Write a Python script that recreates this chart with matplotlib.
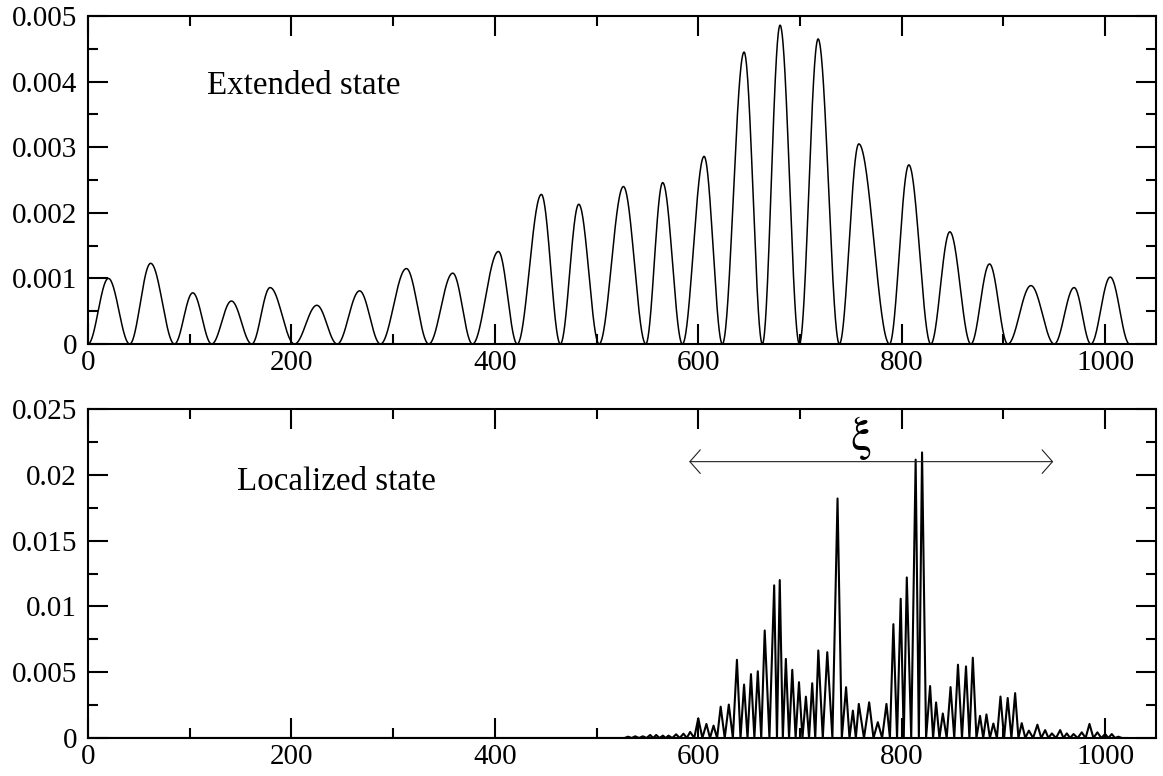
import numpy as np
import matplotlib
matplotlib.use("Agg")
import matplotlib.pyplot as plt
from matplotlib.ticker import MultipleLocator, FuncFormatter

plt.rcParams["font.family"] = ["Liberation Serif", "DejaVu Serif"]

# Extended state: nodes of the wavefunction, position and height of each lobe
ext_nodes = [0, 41, 85, 121.6, 161, 203, 245, 287.5, 335, 378, 422, 464.4,
             502.5, 548.4, 584.4, 623.7, 663, 699.4, 738.7, 788, 828.6, 868,
             904.3, 950, 986, 1024]
ext_peak_x = [20, 61.6, 103, 141, 179, 225, 267, 313, 358.6, 403.5, 445.7,
              482.5, 526.4, 565, 605.7, 645, 680.4, 717.8, 757.8, 807, 847.3,
              886.3, 927, 969.5, 1005]
ext_peak_y = [0.00100, 0.00123, 0.00078, 0.000655, 0.00086, 0.00059, 0.00081,
              0.00115, 0.00108, 0.00141, 0.00228, 0.00213, 0.00240, 0.00246,
              0.00286, 0.00445, 0.00486, 0.00465, 0.00305, 0.00273, 0.00171,
              0.00122, 0.00089, 0.00086, 0.00102]

# Localized state: site of each local maximum and its height
loc_peak_x = [531, 538, 545.5, 552.7, 558.6, 565.2, 570.7, 578.2, 585.4, 592,
              600, 608, 615, 622, 630, 638, 645, 651.8, 658.5, 665.3, 674.6,
              680.1, 686.1, 692.4, 699, 705.8, 712, 718, 726.8, 736.9, 745.3,
              752, 757.8, 768, 776.5, 785, 791.8, 799, 805, 813.7, 820, 827.9,
              833.8, 840.4, 848, 855.3, 863.2, 869.9, 877, 883.3, 890.1,
              897.1, 904.2, 911.5, 918, 925, 933.4, 941, 947.6, 955.8, 962.3,
              968.9, 977, 984.6, 992.4, 1000, 1006.5, 1013]
loc_peak_y = [0.0001, 0.00013, 0.00013, 0.00023, 0.00023, 0.00018, 0.00018,
              0.00028, 0.00033, 0.00046, 0.0015, 0.00107, 0.00094, 0.00238,
              0.00254, 0.00594, 0.00406, 0.00485, 0.00507, 0.00817, 0.0116,
              0.0120, 0.00601, 0.00518, 0.00424, 0.00314, 0.00416, 0.00665,
              0.00652, 0.0182, 0.00386, 0.00208, 0.00259, 0.00271, 0.0012,
              0.00259, 0.00865, 0.01058, 0.0122, 0.02115, 0.0217, 0.00395,
              0.0027, 0.00186, 0.00387, 0.00557, 0.00544, 0.0061, 0.00168,
              0.00179, 0.0011, 0.00315, 0.00304, 0.00341, 0.00113, 0.00056,
              0.00101, 0.0006, 0.00035, 0.0006, 0.00035, 0.0003, 0.00043,
              0.00107, 0.00043, 0.0003, 0.0003, 0.0001]

xi_span = (591, 949)
xi_level = 0.021


def lobe_curve(nodes, px, py, n=60):
    """Smooth |psi|^2 lobes between consecutive nodes."""
    xs, ys = [], []
    t = np.linspace(0, 1, n)
    for i, (p, h) in enumerate(zip(px, py)):
        a, b = nodes[i], nodes[i + 1]
        xs.append(a + (p - a) * t)
        ys.append(h * np.sin(np.pi / 2 * t) ** 2)
        xs.append(p + (b - p) * t)
        ys.append(h * np.cos(np.pi / 2 * t) ** 2)
    return np.concatenate(xs), np.concatenate(ys)


def spike_curve(px, py, start=1, end=1022):
    """Polyline through the maxima, dropping to zero between neighbours."""
    xs, ys = [start, px[0] - 3.5], [0, 0]
    for i, (x, y) in enumerate(zip(px, py)):
        if i > 0:
            xs.append(0.5 * (px[i - 1] + x))
            ys.append(0)
        xs.append(x)
        ys.append(y)
    xs += [px[-1] + 3.5, end]
    ys += [0, 0]
    return np.array(xs), np.array(ys)


W, H = 1163, 776
fig = plt.figure(figsize=(W / 100, H / 100), dpi=100)
left, right = 88, 1156
ax1 = fig.add_axes([left / W, 1 - 344 / H, (right - left) / W, (344 - 16) / H])
ax2 = fig.add_axes([left / W, 1 - 738 / H, (right - left) / W, (738 - 409) / H])

fmt = FuncFormatter(lambda v, pos: "0" if abs(v) < 1e-12 else f"{v:g}")

for ax, ymax, ystep in [(ax1, 0.005, 0.001), (ax2, 0.025, 0.005)]:
    ax.set_xlim(0, 1050)
    ax.set_ylim(0, ymax)
    ax.xaxis.set_major_locator(MultipleLocator(200))
    ax.xaxis.set_minor_locator(MultipleLocator(100))
    ax.yaxis.set_major_locator(MultipleLocator(ystep))
    ax.yaxis.set_minor_locator(MultipleLocator(ystep / 2))
    ax.yaxis.set_major_formatter(fmt)
    ax.tick_params(which="both", direction="in", top=True, right=True,
                   width=1.5, labelsize=21, colors="black")
    ax.tick_params(which="major", length=14.5)
    ax.tick_params(which="minor", length=7.2)
    ax.tick_params(axis="x", pad=4)
    ax.tick_params(axis="y", pad=8)
    for s in ax.spines.values():
        s.set_linewidth(1.5)

x1, y1 = lobe_curve(ext_nodes, ext_peak_x, ext_peak_y)
ax1.plot(x1, y1, color="black", lw=1.1)
ax1.text(117, 0.00381, "Extended state", fontsize=23.8)

x2, y2 = spike_curve(loc_peak_x, loc_peak_y)
ax2.plot(x2, y2, color="black", lw=1.5)
ax2.text(146.5, 0.01884, "Localized state", fontsize=23.8)

ax2.annotate("", xy=(xi_span[1], xi_level), xytext=(xi_span[0], xi_level),
             arrowprops=dict(arrowstyle="<->,head_length=0.75,head_width=0.85",
                             lw=0.8, color="#222222", shrinkA=0, shrinkB=0,
                             mutation_scale=10))
ax2.text(0.5 * (xi_span[0] + xi_span[1]) - 10, xi_level + 0.0001, "ξ",
         fontsize=34, ha="center", va="bottom",
         family=["STIXGeneral", "Liberation Serif"])

fig.savefig("out.png", dpi=100)
